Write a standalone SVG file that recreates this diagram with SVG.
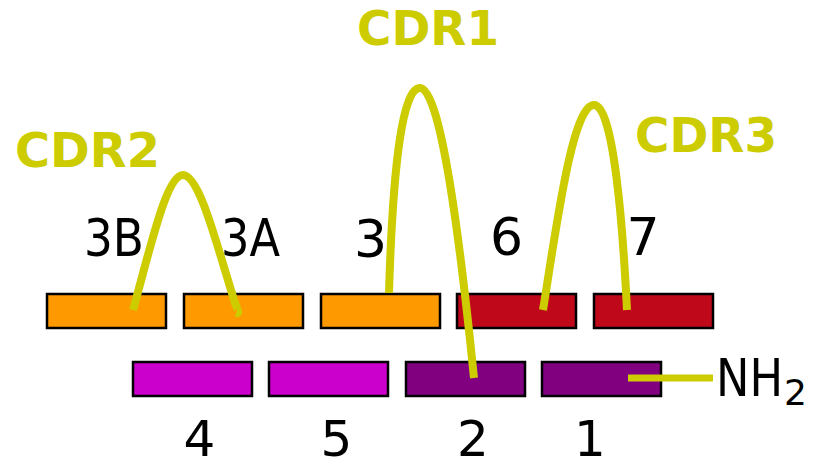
<svg xmlns="http://www.w3.org/2000/svg" width="815" height="463" viewBox="0 0 815 463">
<style>
.seg{stroke:#000;stroke-width:2.5}
.or{fill:#FF9900}.rd{fill:#C0081B}.mg{fill:#CC00CC}.pu{fill:#800080}
.lb{font-family:"DejaVu Sans","Verdana",sans-serif;font-size:52px;fill:#000}
.bt{font-size:50px}
.cdr{font-family:"DejaVu Sans","Verdana",sans-serif;font-size:48px;font-weight:bold;fill:#CCCC00}
.loop{fill:none;stroke:#CCCC00;stroke-width:8}
</style>
<rect width="815" height="463" fill="#fff"/>
<g id="seg3B"><rect class="seg or" x="47" y="294" width="119" height="34"/></g>
<g id="seg3A"><rect class="seg or" x="184" y="294" width="119" height="34"/></g>
<g id="seg3"><rect class="seg or" x="321" y="294" width="119" height="34"/></g>
<g id="seg6"><rect class="seg rd" x="457" y="294" width="119" height="34"/></g>
<g id="seg7"><rect class="seg rd" x="594" y="294" width="119" height="34"/></g>
<g id="seg4"><rect class="seg mg" x="133" y="362" width="119" height="34"/></g>
<g id="seg5"><rect class="seg mg" x="269" y="362" width="119" height="34"/></g>
<g id="seg2"><rect class="seg pu" x="406" y="362" width="119" height="34"/></g>
<g id="seg1"><rect class="seg pu" x="542" y="362" width="119" height="34"/></g>
<g id="labels">
<text class="lb" x="84" y="256" textLength="60" lengthAdjust="spacingAndGlyphs">3B</text>
<text class="lb" x="221" y="256" textLength="59" lengthAdjust="spacingAndGlyphs">3A</text>
<text class="lb" x="370.5" y="257" text-anchor="middle">3</text>
<text class="lb" x="506.5" y="255" text-anchor="middle">6</text>
<text class="lb" x="643" y="255" text-anchor="middle">7</text>
<text class="lb bt" x="199.5" y="456" text-anchor="middle">4</text>
<text class="lb bt" x="336.5" y="456" text-anchor="middle">5</text>
<text class="lb bt" x="473" y="456" text-anchor="middle">2</text>
<text class="lb bt" x="590" y="456" text-anchor="middle">1</text>
<text class="lb" x="716" y="396"><tspan textLength="67" lengthAdjust="spacingAndGlyphs">NH</tspan><tspan x="784" y="405" style="font-size:36px">2</tspan></text>
<text class="cdr" x="15" y="167" textLength="145" lengthAdjust="spacingAndGlyphs">CDR2</text>
<text class="cdr" x="357" y="45" textLength="142" lengthAdjust="spacingAndGlyphs">CDR1</text>
<text class="cdr" x="635" y="152" textLength="142" lengthAdjust="spacingAndGlyphs">CDR3</text>
</g>
<g id="connectors">
<path class="loop" d="M133,310 C150,250 166,175 183,175 C200,175 218,250 235,303 C238,311 240,314 236,313"/>
<path class="loop" d="M389,293 C393,160 403,88 420,88 C442,88 462,260 474,378"/>
<path class="loop" d="M543,310 C556,230 572,105 594,105 C614,105 623,230 627,310"/>
<line class="loop" x1="628" y1="378" x2="713" y2="378" style="stroke-width:7"/>
</g>
</svg>
